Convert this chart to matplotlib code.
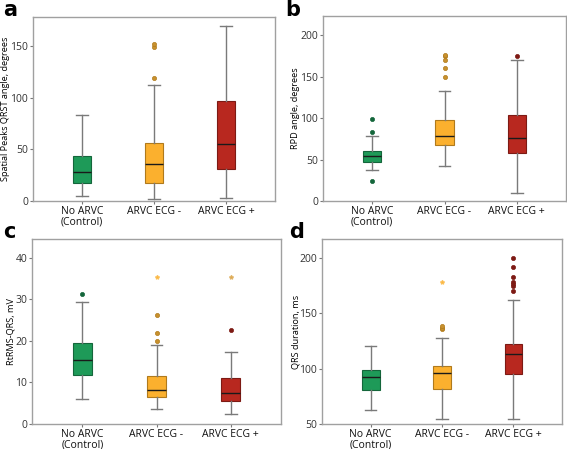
import matplotlib
matplotlib.use("Agg")
import matplotlib.pyplot as plt

groups = ["No ARVC\n(Control)", "ARVC ECG -", "ARVC ECG +"]
colors = ["#1e9a58", "#fbb02e", "#b8281f"]
edges = ["#14663b", "#b07a1c", "#7d1a14"]

# box stats per panel: [whislo, q1, med, q3, whishi] for each group
a_stats = [[5, 17, 28, 44, 83], [2, 17.4, 35.5, 56, 112], [3, 31, 55, 97, 169]]
a_out = [[], [119, 149, 152], []]
a_ext = [[], [], []]

b_stats = [[37, 47, 54.6, 60.6, 78], [42, 67, 78, 98, 132], [10, 57.4, 76, 104, 169.5]]
b_out = [[24, 83, 98.8], [149, 160.6, 169.5, 175, 176], [175]]
b_ext = [[], [], []]

c_stats = [[6, 11.8, 15.4, 19.4, 29.3], [3.6, 6.6, 8.1, 11.6, 19.1], [2.3, 5.5, 7.5, 11, 17.2]]
c_out = [[31.2], [20, 22, 26.1], [22.6]]
c_ext = [[], [35.4], [35.4]]

d_stats = [[62.7, 80.5, 92.3, 98.3, 120], [54.8, 81.7, 95.6, 102, 127.6], [54.5, 95, 113.1, 122.1, 162.3]]
d_out = [[], [135.4, 137, 138.4], [169.8, 174.4, 176.5, 178.6, 182.5, 191.3, 200.3]]
d_ext = [[], [178], []]

# (letter, stats, outliers, extremes, ylabel, ylim, yticks, axes box px, letter pos px, ylabel right edge px)
panels = [
    ("a", a_stats, a_out, a_ext, "Spatial Peaks QRST angle, degrees", (0, 178), [0, 50, 100, 150], [33, 17, 275, 201], (3, 16), 10),
    ("b", b_stats, b_out, b_ext, "RPD angle, degrees", (0, 223), [0, 50, 100, 150, 200], [323, 16, 566, 201], (285, 16), 300),
    ("c", c_stats, c_out, c_ext, "RtRMS-QRS, mV", (0, 44.5), [0, 10, 20, 30, 40], [32, 239, 281, 424], (3, 238), 15.5),
    ("d", d_stats, d_out, d_ext, "QRS duration, ms", (50, 217), [50, 100, 150, 200], [322, 239, 562, 424], (289, 238), 301),
]

W, H = 567, 449
fig = plt.figure(figsize=(W / 100, H / 100), dpi=100)
plt.rcParams['font.family'] = ['Open Sans', 'DejaVu Sans']

for letter, stats, outs, exts, ylab, ylim, yticks, box, lpos, labx in panels:
    l, t, r, b = box
    ax = fig.add_axes([l / W, 1 - b / H, (r - l) / W, (b - t) / H])
    bxp_stats = []
    for s in stats:
        bxp_stats.append({"whislo": s[0], "q1": s[1], "med": s[2], "q3": s[3], "whishi": s[4], "fliers": []})
    res = ax.bxp(bxp_stats, positions=[1, 2, 3], widths=0.25, patch_artist=True, showfliers=False,
                 whiskerprops=dict(color="#7a7a7a", lw=1.0),
                 capprops=dict(color="#7a7a7a", lw=1.0),
                 medianprops=dict(color="#1a1a1a", lw=1.0))
    for i, patch in enumerate(res["boxes"]):
        patch.set_facecolor(colors[i])
        patch.set_edgecolor(edges[i])
        patch.set_linewidth(0.8)
    for cap in res["caps"]:
        x0, x1 = cap.get_xdata()
        m = (x0 + x1) / 2
        cap.set_xdata([m - 0.08, m + 0.08])
    for i in range(3):
        if outs[i]:
            ax.plot([i + 1] * len(outs[i]), outs[i], "o", ms=3, mfc=edges[i] if i != 1 else "#c8912e",
                    mec=edges[i], mew=0.5, ls="none")
        if exts[i]:
            ax.plot([i + 1] * len(exts[i]), exts[i], "*", ms=3, color=colors[i] if i != 2 else "#d9a040",
                    alpha=0.7, ls="none")
    ax.set_xlim(0.32, 3.68)
    ax.set_ylim(*ylim)
    ax.set_yticks(yticks)
    ax.set_xticks([1, 2, 3])
    ax.set_xticklabels(groups, fontsize=7.5, color="#111111", linespacing=0.95)
    ax.tick_params(axis="y", labelsize=7.5, length=2.5, width=0.8, pad=1, colors="#777777", labelcolor="#333333")
    ax.tick_params(axis="x", length=2.5, width=0.8, pad=1, colors="#777777", labelcolor="#111111")
    for sp in ax.spines.values():
        sp.set_color("#a0a0a0")
        sp.set_linewidth(1.0)
    ax.set_ylabel(ylab, fontsize=6.6, color="#000000")
    ax.yaxis.set_label_coords((labx - l) / (r - l), 0.5)
    fig.text(lpos[0] / W, 1 - lpos[1] / H, letter, fontsize=15, fontweight="bold",
             family="DejaVu Sans", va="baseline", ha="left")

fig.savefig("out.png", dpi=100)
